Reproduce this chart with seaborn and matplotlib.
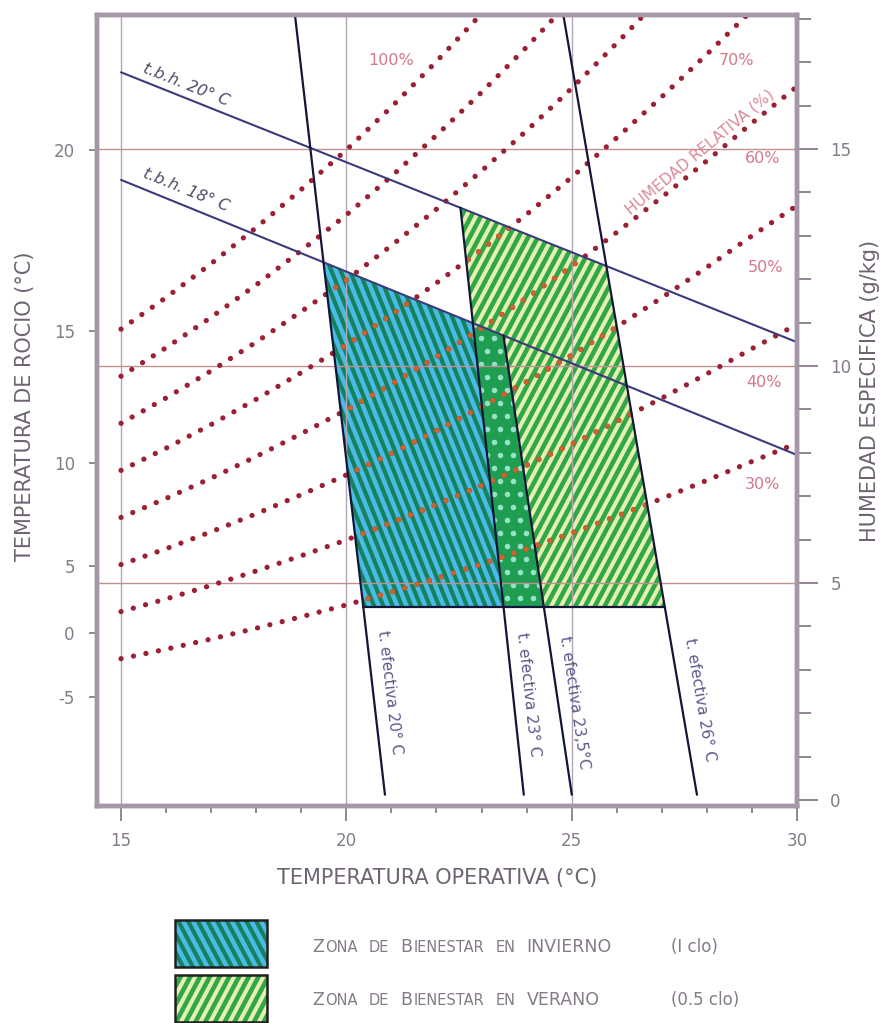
import numpy as np
import pandas as pd
import seaborn as sns
import matplotlib.pyplot as plt
from matplotlib.patches import Polygon, Rectangle
from matplotlib.collections import LineCollection
from matplotlib.offsetbox import TextArea, HPacker, AnchoredOffsetbox

# saturation curve (100% line), g/kg at each operative temp
temps = [15, 16, 17, 18, 19, 20, 21, 22, 23, 24, 25, 26, 27, 28, 29, 30]
w_sat = [10.85, 11.58, 12.36, 13.19, 14.07, 14.98, 15.97, 17.02, 18.12, 19.28,
         20.50, 21.80, 23.15, 24.55, 26.00, 27.40]
rh_levels = [30, 40, 50, 60, 70, 80, 90, 100]

# dew point scale (left) placed on the specific humidity scale
dew_labels = [20, 15, 10, 5, 0, -5]
dew_w = [14.98, 10.81, 7.76, 5.39, 3.85, 2.37]

# wet bulb lines, humidity at 15 C and at 30 C
tbh_names = ["t.b.h. 20° C", "t.b.h. 18° C"]
tbh_w15 = [16.77, 14.29]
tbh_w30 = [10.55, 7.95]

# effective temperature lines, operative temp at 0 and at 18 g/kg
et_names = ["t. efectiva 20° C", "t. efectiva 23° C", "t. efectiva 23,5°C", "t. efectiva 26° C"]
et_T0 = [20.87, 23.95, 25.02, 27.80]
et_T18 = [18.87, 22.08, 22.44, 24.83]
et_foot = 0.12       # where the lines stop at the bottom
zone_bottom = 4.45   # lower limit of both comfort zones, g/kg

spine_c = "#a596a8"
tick_c = "#8a7c8c"
label_c = "#857a88"
title_c = "#6f6373"

sns.set_style("ticks")
plt.rcParams["font.family"] = ["DejaVu Sans"]


def et_at(i, w):
    return et_T0[i] + (et_T18[i] - et_T0[i]) * w / 18.0


def tbh_at(j, T):
    return tbh_w15[j] + (tbh_w30[j] - tbh_w15[j]) * (T - 15) / 15.0


def cross(i, j):
    # effective temp line i meets wet bulb line j
    b = (et_T18[i] - et_T0[i]) / 18.0
    d = (tbh_w30[j] - tbh_w15[j]) / 15.0
    T = (et_T0[i] + b * tbh_w15[j] - 15 * b * d) / (1 - b * d)
    return T, tbh_at(j, T)


def stripes(ax, patch, color, angle, step, lw, z):
    W, H = ax.bbox.width, ax.bbox.height
    d = np.array([np.cos(np.radians(angle)), np.sin(np.radians(angle))])
    n = np.array([-d[1], d[0]])
    c = np.array([W / 2, H / 2])
    L = W + H
    segs = []
    for k in np.arange(-L, L, step):
        p = c + k * n
        a, b = p - L * d, p + L * d
        segs.append([(a[0] / W, a[1] / H), (b[0] / W, b[1] / H)])
    lc = LineCollection(segs, colors=color, linewidths=lw,
                        transform=ax.transAxes, zorder=z)
    ax.add_collection(lc, autolim=False)
    lc.set_clip_path(patch)


def dots(ax, patch, color, step, size, z):
    W, H = ax.bbox.width, ax.bbox.height
    xs, ys = np.meshgrid(np.arange(0, W, step), np.arange(0, H, step))
    xs = xs.astype(float)
    xs[::2] += step / 2
    sc = ax.scatter(xs.ravel() / W, ys.ravel() / H, s=size, color=color,
                    linewidths=0, transform=ax.transAxes, zorder=z)
    sc.set_clip_path(patch)


fig = plt.figure(figsize=(8.9, 10.23), dpi=100)
ax = fig.add_axes([97 / 890, 1 - 806 / 1023, 700 / 890, 791 / 1023])
ax.set_xlim(14.467, 30)
ax.set_ylim(-0.14, 18.09)

# grid
for t in [15, 20, 25]:
    ax.axvline(t, color="#b5a6b5", lw=1.0, zorder=3)
for w in [5, 10, 15]:
    ax.axhline(w, color="#c29090", lw=1.0, zorder=3)

# comfort zones
wb = zone_bottom
winter = [(et_at(0, wb), wb), (et_at(2, wb), wb), cross(2, 1), cross(0, 1)]
summer = [(et_at(1, wb), wb), (et_at(3, wb), wb), cross(3, 0), cross(1, 0)]
both = [(et_at(1, wb), wb), (et_at(2, wb), wb), cross(2, 1), cross(1, 1)]

p_sum = Polygon(summer, closed=True, facecolor="#2fa84a", edgecolor="none", zorder=2)
ax.add_patch(p_sum)
stripes(ax, p_sum, "#e6efb0", 62, 8.6, 2.9, 2.1)

p_win = Polygon(winter, closed=True, facecolor="#48bce6", edgecolor="none", zorder=2.2)
ax.add_patch(p_win)
stripes(ax, p_win, "#17805c", -68, 8.6, 3.0, 2.3)

p_both = Polygon(both, closed=True, facecolor="#1f9e52", edgecolor="none", zorder=2.4)
ax.add_patch(p_both)
dots(ax, p_both, "#95e2c6", 13, 16, 2.5)

# relative humidity curves
rh_df = pd.DataFrame([(t, rh, rh / 100 * ws) for rh in rh_levels
                      for t, ws in zip(temps, w_sat)], columns=["T", "rh", "w"])
dot_kw = dict(lw=3.8, linestyle=(0, (0.01, 2.4)), dash_capstyle="round",
              units="rh", estimator=None, sort=False, legend=False)
sns.lineplot(data=rh_df, x="T", y="w", color="#9c2034", ax=ax, zorder=4, **dot_kw)
for patch in (p_sum, p_win):
    n0 = len(ax.lines)
    sns.lineplot(data=rh_df, x="T", y="w", color="#c8642c", ax=ax, zorder=4.1, **dot_kw)
    for ln in ax.lines[n0:]:
        ln.set_clip_path(patch)

# wet bulb lines
tbh_df = pd.DataFrame([(name, t, tbh_at(j, t)) for j, name in enumerate(tbh_names)
                       for t in (15, 30)], columns=["name", "T", "w"])
sns.lineplot(data=tbh_df, x="T", y="w", units="name", estimator=None, color="#3b3b7a",
             lw=1.5, ax=ax, zorder=5, legend=False)

# effective temperature lines
tops = [18.5, cross(1, 0)[1], cross(2, 1)[1], 18.5]
et_df = pd.DataFrame([(name, et_at(i, w), w) for i, name in enumerate(et_names)
                      for w in (et_foot, tops[i])], columns=["name", "T", "w"])
sns.lineplot(data=et_df, x="T", y="w", units="name", estimator=None, sort=False,
             color="#15153a", lw=1.6, ax=ax, zorder=5, legend=False)
ax.plot([et_at(0, wb), et_at(3, wb)], [wb, wb], color="#15153a", lw=1.6, zorder=5)

# labels inside the chart
ax.text(16.44, 16.47, tbh_names[0], rotation=-21.8, ha="center", va="center",
        fontsize=11.5, style="italic", color="#4c4c6a", zorder=6)
ax.text(16.44, 14.06, tbh_names[1], rotation=-22.1, ha="center", va="center",
        fontsize=11.5, style="italic", color="#4c4c6a", zorder=6)

et_pos = [(20.97, 2.47, -83.4), (24.03, 2.44, -83.8), (25.07, 2.24, -81.5), (27.85, 2.30, -80.4)]
for name, (t, w, r) in zip(et_names, et_pos):
    ax.text(t, w, name, rotation=r, ha="center", va="center", fontsize=11,
            color="#5a5a8c", zorder=6)

rh_lab = [("100%", 20.99, 17.05), ("70%", 28.65, 17.05), ("60%", 29.24, 14.79),
          ("50%", 29.29, 12.28), ("40%", 29.27, 9.61), ("30%", 29.24, 7.26)]
for s, t, w in rh_lab:
    ax.text(t, w, s, ha="center", va="center", fontsize=11.5, color="#d4788a", zorder=6)
ax.text(27.85, 14.93, "HUMEDAD RELATIVA (%)", rotation=39.5, ha="center", va="center",
        fontsize=11, color="#d98a9a", zorder=6)

# axes styling
ax.set_xticks([15, 20, 25, 30])
ax.set_xticks(range(15, 31), minor=True)
ax.set_yticks(dew_w)
ax.set_yticklabels(dew_labels)
ax.tick_params(axis="x", which="major", length=11, width=1.3, color=tick_c, pad=8,
               labelsize=12, labelcolor=label_c, bottom=True)
ax.tick_params(axis="x", which="minor", length=5, width=1.3, color=tick_c, bottom=True)
ax.tick_params(axis="y", which="major", length=6, width=1.3, color=tick_c, pad=10,
               labelsize=12, labelcolor=label_c, left=True)
ax.set_xlabel("")
ax.set_ylabel("")

ax2 = ax.twinx()
ax2.set_ylim(ax.get_ylim())
ax2.set_yticks([0, 5, 10, 15])
ax2.set_yticks(range(0, 19), minor=True)
ax2.tick_params(axis="y", which="major", length=15, width=1.3, color=tick_c, pad=9,
                labelsize=12, labelcolor=label_c, right=True)
ax2.tick_params(axis="y", which="minor", length=10, width=1.3, color=tick_c, right=True)
for a in (ax, ax2):
    for s in a.spines.values():
        s.set_visible(True)
        s.set_color(spine_c)
        s.set_linewidth(3.2)

fig.text(437 / 890, 1 - 878 / 1023, "TEMPERATURA OPERATIVA (°C)", ha="center", va="center",
         fontsize=15, color=title_c)
fig.text(25 / 890, 1 - 406 / 1023, "TEMPERATURA DE ROCIO (°C)", ha="center", va="center",
         rotation=90, fontsize=15, color=title_c)
fig.text(870 / 890, 1 - 391 / 1023, "HUMEDAD ESPECIFICA (g/kg)", ha="center", va="center",
         rotation=90, fontsize=15, color=title_c)

# legend
legend_rows = [
    ([("Z", "ONA"), ("", "DE"), ("B", "IENESTAR"), ("", "EN"), ("INVIERNO", "")], "(I clo)"),
    ([("Z", "ONA"), ("", "DE"), ("B", "IENESTAR"), ("", "EN"), ("VERANO", "")], "(0.5 clo)"),
]
box_y = [920, 975]
text_y = [947, 1000]
for k, (words, clo) in enumerate(legend_rows):
    lax = fig.add_axes([175 / 890, 1 - (box_y[k] + 47) / 1023, 92 / 890, 47 / 1023])
    lax.set_xlim(0, 1)
    lax.set_ylim(0, 1)
    lax.axis("off")
    if k == 0:
        r = Rectangle((0, 0), 1, 1, facecolor="#48bce6", edgecolor="none")
        lax.add_patch(r)
        stripes(lax, r, "#17805c", -62, 8.6, 3.0, 2)
    else:
        r = Rectangle((0, 0), 1, 1, facecolor="#2fa84a", edgecolor="none")
        lax.add_patch(r)
        stripes(lax, r, "#e6efb0", 62, 8.6, 2.9, 2)
    lax.add_patch(Rectangle((0, 0), 1, 1, fill=False, edgecolor="#202020", lw=1.8,
                            clip_on=False, zorder=3))

    boxes = []
    for big, small in words:
        parts = []
        if big:
            parts.append(TextArea(big, textprops=dict(fontsize=12.5, color=label_c)))
        if small:
            parts.append(TextArea(small, textprops=dict(fontsize=10.5, color=label_c)))
        boxes.append(HPacker(children=parts, align="baseline", pad=0, sep=1))
    pack = HPacker(children=boxes, align="baseline", pad=0, sep=8)
    ab = AnchoredOffsetbox(loc="center left", child=pack, pad=0, borderpad=0, frameon=False,
                           bbox_to_anchor=(312 / 890, 1 - text_y[k] / 1023),
                           bbox_transform=fig.transFigure)
    fig.add_artist(ab)
    fig.text(671 / 890, 1 - text_y[k] / 1023, clo, ha="left", va="center",
             fontsize=12, color=label_c)

fig.savefig("out.png", dpi=100)
